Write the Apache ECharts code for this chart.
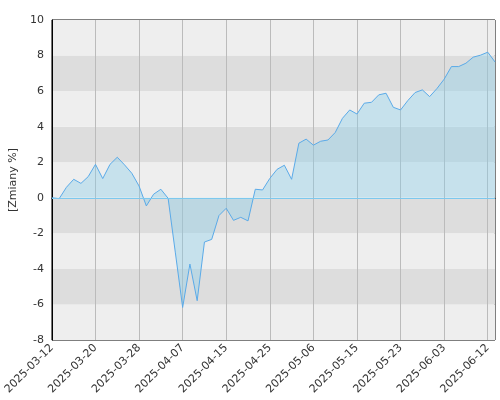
<!DOCTYPE html>
<html>
<head>
<meta charset="utf-8">
<script src="https://cdn.jsdelivr.net/npm/echarts@6/dist/echarts.min.js"></script>
<style>html,body{margin:0;padding:0;background:#fff}#c{width:500px;height:400px}</style>
</head>
<body>
<div id="c"></div>
<script>
var dates = [
  '2025-03-12','2025-03-13','2025-03-14','2025-03-17','2025-03-18','2025-03-19','2025-03-20',
  '2025-03-21','2025-03-24','2025-03-25','2025-03-26','2025-03-27','2025-03-28','2025-03-31',
  '2025-04-01','2025-04-02','2025-04-03','2025-04-04','2025-04-07','2025-04-08','2025-04-09',
  '2025-04-10','2025-04-11','2025-04-14','2025-04-15','2025-04-16','2025-04-17','2025-04-22',
  '2025-04-23','2025-04-24','2025-04-25','2025-04-28','2025-04-29','2025-04-30','2025-05-02',
  '2025-05-05','2025-05-06','2025-05-07','2025-05-09','2025-05-12','2025-05-13','2025-05-14',
  '2025-05-15','2025-05-16','2025-05-19','2025-05-20','2025-05-21','2025-05-22','2025-05-23',
  '2025-05-26','2025-05-27','2025-05-28','2025-05-29','2025-06-02','2025-06-03','2025-06-04',
  '2025-06-06','2025-06-09','2025-06-10','2025-06-11','2025-06-12','2025-06-13'
];
var changes = [
  0, -0.05, 0.59, 1.04, 0.81, 1.19, 1.88,
  1.08, 1.88, 2.28, 1.85, 1.38, 0.66, -0.46,
  0.2, 0.48, -0.03, -3.1, -6.17, -3.73, -5.79,
  -2.49, -2.34, -1.0, -0.59, -1.27, -1.1, -1.3,
  0.48, 0.44, 1.09, 1.6, 1.83, 1.04, 3.07,
  3.3, 2.96, 3.18, 3.25, 3.67, 4.47, 4.94,
  4.71, 5.32, 5.37, 5.79, 5.88, 5.09, 4.94,
  5.47, 5.92, 6.07, 5.69, 6.14, 6.67, 7.38,
  7.38, 7.57, 7.91, 8.02, 8.19, 7.64
];

var chart = echarts.init(document.getElementById('c'));
chart.setOption({
  animation: false,
  textStyle: {fontFamily: 'DejaVu Sans'},
  grid: {left: 45, right: 5, top: 20, bottom: 60, show: true, borderColor: '#000', borderWidth: 1},
  xAxis: {
    type: 'category',
    data: dates,
    boundaryGap: false,
    axisLine: {lineStyle: {color: '#000'}},
    axisTick: {show: false},
    axisLabel: {interval: 5, rotate: 45, color: '#333', fontSize: 11, margin: 6},
    splitLine: {show: true, interval: 5, lineStyle: {color: '#bbb'}}
  },
  yAxis: {
    type: 'value',
    min: -8, max: 10, interval: 2,
    name: '[Zmiany %]',
    nameLocation: 'middle',
    nameGap: 30,
    nameTextStyle: {color: '#333', fontSize: 11},
    axisLine: {show: true, lineStyle: {color: '#000'}},
    axisTick: {show: false},
    axisLabel: {color: '#333', fontSize: 11},
    splitLine: {show: false},
    splitArea: {show: true, areaStyle: {color: ['#eeeeee', '#dddddd']}}
  },
  series: [{
    type: 'line',
    data: changes,
    symbol: 'none',
    lineStyle: {color: '#5aaae8', width: 1},
    areaStyle: {color: 'rgba(135,206,235,0.55)'},
    markLine: {
      silent: true, symbol: 'none', label: {show: false},
      lineStyle: {color: '#7cc8ee', type: 'solid', width: 1},
      data: [{yAxis: 0}]
    }
  }]
});
</script>
</body>
</html>
